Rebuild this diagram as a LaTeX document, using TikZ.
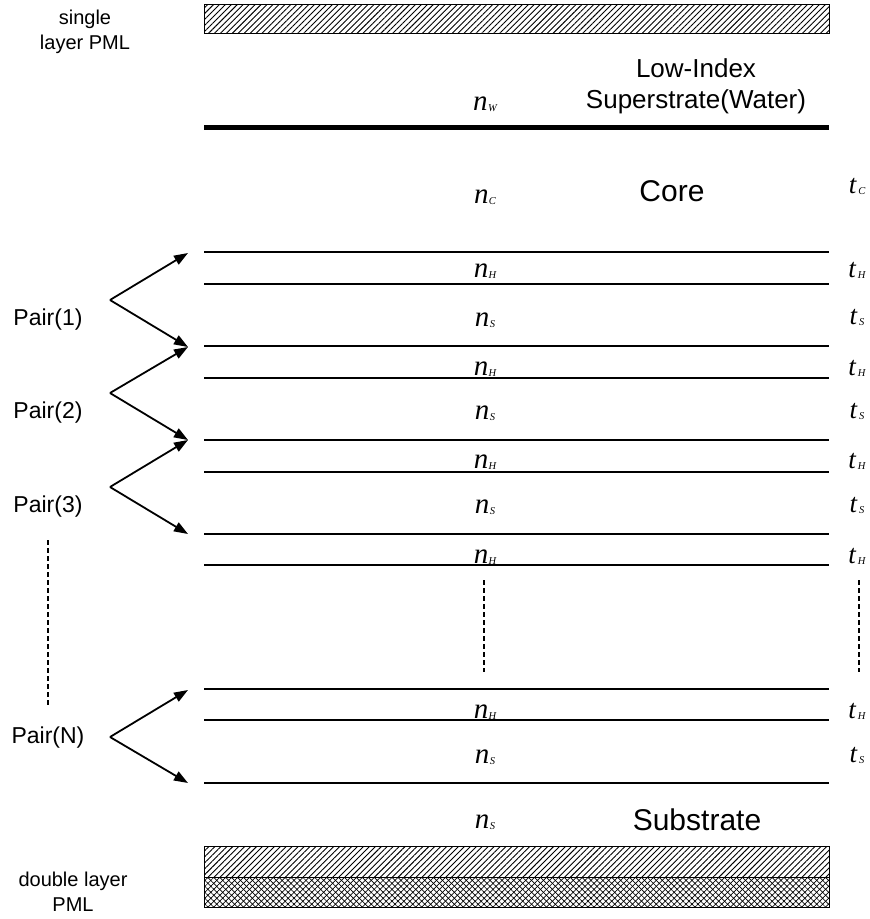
\documentclass[tikz,border=0pt]{standalone}
\usepackage{fontspec}
\setmainfont{Liberation Sans}
\newfontfamily\tms{Liberation Serif}
\usetikzlibrary{arrows.meta,patterns.meta}
\newcommand{\nsym}[1]{{\tms\itshape\fontsize{29}{29}\selectfont n\kern0.3pt\raisebox{-1pt}{\fontsize{10.5}{11}\selectfont #1}}}
\newcommand{\tsym}[1]{{\tms\itshape\fontsize{27}{27}\selectfont t\kern2pt\raisebox{-1pt}{\fontsize{10.5}{11}\selectfont #1}}}
\begin{document}
\begin{tikzpicture}[x=1pt,y=-1pt,
  layer/.style={line width=1.8pt},
  thickline/.style={line width=5pt},
  pml/.style={draw,line width=1pt},
  pairarrow/.style={line width=1.8pt,-{Triangle[length=14pt,width=10pt]}},
  dashline/.style={line width=1.8pt,dash pattern=on 5pt off 3pt},
  sym/.style={anchor=base,inner sep=0pt},
  big/.style={font=\fontsize{30}{31}\selectfont,inner sep=0pt},
  lbl/.style={font=\fontsize{20}{25}\selectfont,inner sep=0pt,align=center},
  pairlbl/.style={font=\fontsize{23}{25}\selectfont,inner sep=0pt}]
\useasboundingbox (0,0) rectangle (870,919);
% PML boxes
\coordinate (pt1) at (204,4); \coordinate (pt2) at (829,33);
\fill[pattern={Lines[angle=45,distance=4.2pt,line width=0.9pt]}] (pt1) rectangle (pt2);
\draw[pml] (pt1) rectangle (pt2);
\coordinate (pb1) at (204,846); \coordinate (pb2) at (829,877); \coordinate (pb3) at (204,907);
\fill[pattern={Lines[angle=45,distance=4.2pt,line width=0.9pt]}] (pb1) rectangle (pb2);
\fill[pattern={Lines[angle=45,distance=4.2pt,line width=0.7pt]}] (pb3) rectangle (pb2);
\fill[pattern={Lines[angle=-45,distance=4.2pt,line width=0.7pt]}] (pb3) rectangle (pb2);
\draw[pml] (pb1) rectangle (pb2);
\draw[pml] (pb3) rectangle (pb2);
% thick line
\coordinate (tka) at (204,127); \coordinate (tkb) at (829,127);
\draw[thickline] (tka) -- (tkb);
% layer lines
\foreach \i/\y in {1/252,2/284,3/346,4/378,5/440,6/472,7/534,8/565,9/689,10/720,11/783}{
  \coordinate (la\i) at (204,\y); \coordinate (lb\i) at (829,\y);
  \draw[layer] (la\i) -- (lb\i);
}
% dashed lines
\coordinate (dl1) at (48,540); \coordinate (dl2) at (48,705);
\coordinate (dm1) at (484,580); \coordinate (dm2) at (484,672);
\coordinate (dr1) at (859,580); \coordinate (dr2) at (859,672);
\draw[dashline] (dl1) -- (dl2);
\draw[dashline] (dm1) -- (dm2);
\draw[dashline] (dr1) -- (dr2);
% pair arrows
\foreach \i/\v/\a/\b in {1/300/253/347,2/393/347/440,3/487/440/534,N/737/690/783}{
  \coordinate (v\i) at (110,\v);
  \coordinate (ta\i) at (188,\a);
  \coordinate (tb\i) at (188,\b);
  \draw[pairarrow] (v\i) -- (ta\i);
  \draw[pairarrow] (v\i) -- (tb\i);
}
% left labels
\node[lbl] (single) at (85,32) {single\\layer PML};
\node[lbl] (double) at (73,892) {double layer\\PML};
\node[pairlbl] (p1) at (48,320) {Pair(1)};
\node[pairlbl] (p2) at (48,413) {Pair(2)};
\node[pairlbl] (p3) at (48,507) {Pair(3)};
\node[pairlbl] (pN) at (48,738) {Pair(N)};
% big labels
\node[inner sep=0pt,align=center,font=\fontsize{26}{31}\selectfont] (water) at (696,86) {Low-Index\\Superstrate(Water)};
\node[big] (core) at (672,191) {Core};
\node[big] (subs) at (697,820) {Substrate};
% index symbols
\node[sym] (nw) at (485,110) {\nsym{W}};
\node[sym] (nc) at (485,203) {\nsym{C}};
\node[sym] (tc) at (857,193) {\tsym{C}};
\foreach \i/\yh/\ys/\yt in {1/277/326/324,2/375/419/418,3/468/513/512,N/718/763/762}{
  \node[sym] (nh\i) at (485,\yh) {\nsym{H}};
  \node[sym] (th\i) at (857,\yh) {\tsym{H}};
  \node[sym] (ns\i) at (485,\ys) {\nsym{S}};
  \node[sym] (ts\i) at (857,\yt) {\tsym{S}};
}
\node[sym] (nh4) at (485,563) {\nsym{H}};
\node[sym] (th4) at (857,563) {\tsym{H}};
\node[sym] (nsub) at (485,828) {\nsym{S}};
\end{tikzpicture}
\end{document}
